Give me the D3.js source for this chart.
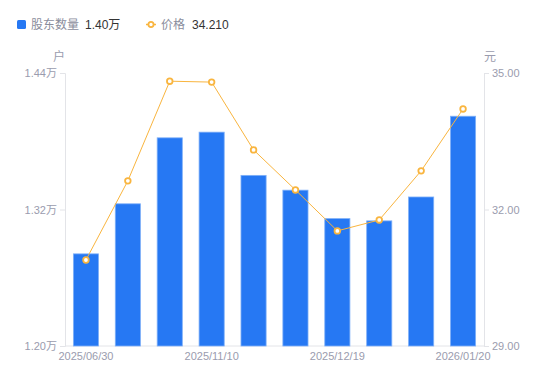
<!DOCTYPE html>
<html><head><meta charset="utf-8">
<script src="https://cdn.jsdelivr.net/npm/d3@7/dist/d3.min.js"></script>
<style>
html,body{margin:0;padding:0;background:#fff;}
svg{display:block;font-family:"Liberation Sans","Noto Sans CJK SC",sans-serif;}
</style></head>
<body><svg id="c" width="550" height="381"></svg>
<script>
const categories = ["2025/06/30","2025/09/30","2025/10/20","2025/11/10","2025/11/20","2025/11/28","2025/12/19","2025/12/31","2026/01/10","2026/01/20"];
const holders = [1.281, 1.325, 1.383, 1.388, 1.350, 1.337, 1.312, 1.310, 1.331, 1.402];
const prices = [30.89, 32.63, 34.82, 34.80, 33.31, 32.43, 31.53, 31.77, 32.85, 34.21];
const leftTicks = [1.20, 1.32, 1.44];
const rightTicks = [29, 32, 35];
const xLabelIdx = [0, 3, 6, 9];

const svg = d3.select("#c");
const L = 65, R = 484, T = 73, B = 346;
const x = d3.scaleBand().domain(categories).range([L, R]).paddingInner(0.4).paddingOuter(0.2);
const yL = d3.scaleLinear().domain([1.20, 1.44]).range([B, T]);
const yR = d3.scaleLinear().domain([29, 35]).range([B, T]);
const axisCol = "#e3e4e8", labCol = "#9a9cae";

// axes
const gl = svg.append("g").attr("transform", `translate(${L},0)`)
  .call(d3.axisLeft(yL).tickValues(leftTicks).tickSize(5).tickPadding(3).tickFormat(d => d.toFixed(2) + "万"));
const gr = svg.append("g").attr("transform", `translate(${R},0)`)
  .call(d3.axisRight(yR).tickValues(rightTicks).tickSize(5).tickPadding(3).tickFormat(d => d.toFixed(2)));
const gx = svg.append("g").attr("transform", `translate(0,${B})`)
  .call(d3.axisBottom(x).tickSize(0).tickPadding(6).tickFormat((d, i) => xLabelIdx.includes(i) ? d : ""));
[gl, gr, gx].forEach(g => {
  g.selectAll(".domain").attr("stroke", axisCol);
  g.selectAll(".tick line").attr("stroke", axisCol);
  g.selectAll("text").attr("fill", labCol).attr("font-size", 11)
    .attr("font-family", '"Liberation Sans","Noto Sans CJK SC",sans-serif');
});
gx.select(".domain").attr("d", `M${L},0H${R}`);

// units
svg.append("text").attr("x", 59).attr("y", 61).attr("text-anchor", "middle").attr("font-size", 12).attr("fill", labCol).text("户");
svg.append("text").attr("x", 490).attr("y", 61).attr("text-anchor", "middle").attr("font-size", 12).attr("fill", labCol).text("元");

// bars
svg.append("g").selectAll("rect").data(holders).join("rect")
  .attr("x", (d, i) => x(categories[i]))
  .attr("width", x.bandwidth())
  .attr("y", d => yL(d))
  .attr("height", d => B - yL(d))
  .attr("fill", "#2678f3")
  .attr("stroke", "#7fb0f8").attr("stroke-width", 0.8);

// line
const line = d3.line().x((d, i) => x(categories[i]) + x.bandwidth() / 2).y(d => yR(d));
svg.append("path").datum(prices).attr("d", line).attr("fill", "none").attr("stroke", "#f9b53f").attr("stroke-width", 1);
svg.append("g").selectAll("circle").data(prices).join("circle")
  .attr("cx", (d, i) => x(categories[i]) + x.bandwidth() / 2)
  .attr("cy", d => yR(d)).attr("r", 2.8)
  .attr("fill", "#fff").attr("stroke", "#f9b53f").attr("stroke-width", 1.8);

// legend
const lg = svg.append("g");
lg.append("rect").attr("x", 17).attr("y", 20).attr("width", 9).attr("height", 9).attr("rx", 1.5).attr("fill", "#2678f3");
lg.append("text").attr("x", 31).attr("y", 29).attr("font-size", 12).attr("fill", "#8a8d9c").text("股东数量");
lg.append("text").attr("x", 85).attr("y", 29).attr("font-size", 12).attr("fill", "#333").text(holders[holders.length - 1].toFixed(2) + "万");
lg.append("line").attr("x1", 146).attr("x2", 156).attr("y1", 24.5).attr("y2", 24.5).attr("stroke", "#f9b53f").attr("stroke-width", 1.5);
lg.append("circle").attr("cx", 151).attr("cy", 24.5).attr("r", 2.6).attr("fill", "#fff").attr("stroke", "#f9b53f").attr("stroke-width", 1.8);
lg.append("text").attr("x", 161).attr("y", 29).attr("font-size", 12).attr("fill", "#8a8d9c").text("价格");
lg.append("text").attr("x", 192).attr("y", 29).attr("font-size", 12).attr("fill", "#333").text(prices[prices.length - 1].toFixed(3));
</script></body></html>
